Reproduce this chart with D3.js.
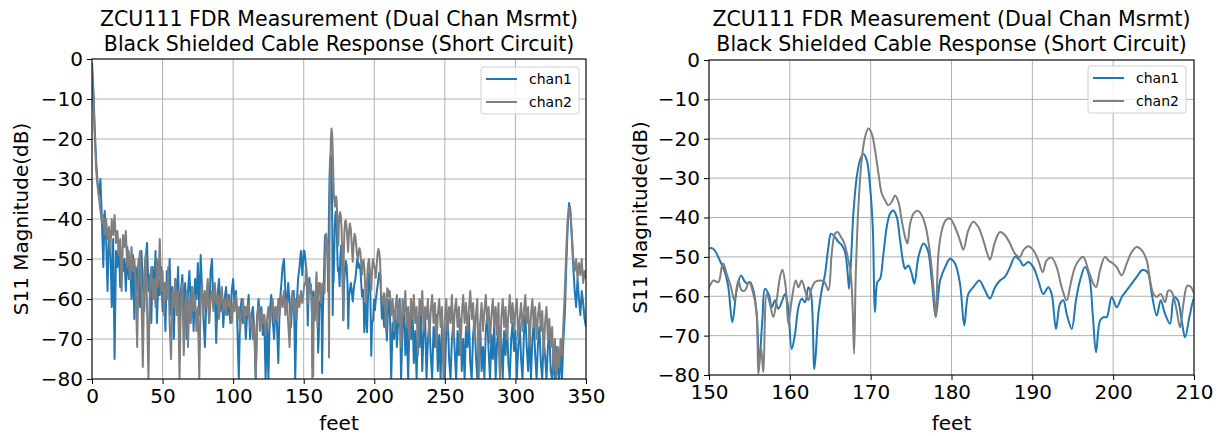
<!DOCTYPE html>
<html>
<head>
<meta charset="utf-8">
<script src="https://cdn.jsdelivr.net/npm/d3@7"></script>
<style>
  body { margin: 0; background: #fff; }
  svg { display: block; font-family: "DejaVu Sans", sans-serif; }
</style>
</head>
<body>
<div class="container"></div>
<script>
const titleLines = ['ZCU111 FDR Measurement (Dual Chan Msrmt)', 'Black Shielded Cable Response (Short Circuit)'];
const seriesNames = ['chan1', 'chan2'];
const seriesColors = ['#1f77b4', '#7f7f7f'];
const yTicks = [0, -10, -20, -30, -40, -50, -60, -70, -80];
const wideTicks = [0, 50, 100, 150, 200, 250, 300, 350];
const zoomTicks = [150, 160, 170, 180, 190, 200, 210];

// coarse read-off, 1 ft steps, 0..149 ft
const nearFeet = d3.range(0, 150);
const nearDb1 = [
  -1, -8, -18, -26, -31, -34, -30, -40, -52, -38, -45, -58, -44, -47, -62, -45, -75, -48, -52, -46,
  -57, -48, -53, -50, -58, -47, -55, -51, -60, -49, -65, -52, -58, -50, -62, -48, -56, -63, -50, -46,
  -58, -54, -66, -52, -60, -48, -66, -55, -59, -52, -63, -56, -68, -53, -60, -50, -64, -57, -70, -55,
  -61, -52, -67, -58, -54, -63, -56, -70, -58, -53, -62, -57, -68, -55, -60, -51, -64, -49, -58, -65,
  -72, -60, -56, -66, -53, -50, -62, -57, -71, -59, -55, -63, -58, -67, -60, -57, -64, -59, -66, -58,
  -55, -62, -58, -67, -80, -63, -60, -66, -62, -70, -63, -59, -70, -64, -62, -68, -80, -65, -60, -66,
  -62, -69, -64, -80, -66, -80, -63, -59, -65, -70, -62, -66, -76, -61, -57, -52, -50, -58, -63, -56,
  -61, -67, -60, -58, -80, -62, -55, -52, -48, -54
];
const nearDb2 = [
  -2, -10, -20, -28, -32, -35, -38, -41, -39, -44, -40, -45, -42, -48, -40, -44, -39, -46, -43, -49,
  -45, -58, -44, -47, -43, -52, -48, -55, -47, -53, -50, -57, -72, -52, -48, -58, -77, -54, -49, -62,
  -80, -56, -52, -60, -55, -62, -50, -57, -45, -58, -53, -64, -56, -60, -52, -66, -75, -58, -62, -55,
  -64, -58, -80, -60, -56, -74, -62, -58, -72, -60, -66, -57, -63, -59, -68, -62, -80, -60, -56, -64,
  -58, -62, -55, -66, -60, -58, -63, -56, -61, -59, -65, -60, -57, -63, -60, -64, -59, -62, -60, -66,
  -61, -63, -59, -65, -62, -68, -63, -60, -66, -62, -64, -61, -67, -64, -70, -66, -80, -64, -62, -68,
  -63, -66, -64, -69, -65, -62, -67, -63, -60, -66, -62, -65, -60, -64, -59, -62, -58, -64, -60, -66,
  -72, -61, -58, -63, -60, -65, -59, -62, -58, -61
];

// fine read-off from the zoomed panel, 150..210 ft
const zoomFeet1 = [
  150.0, 150.54, 151.36, 151.98, 152.39, 152.89, 153.42, 153.96, 154.46, 154.79, 155.07, 155.49, 155.9, 156.2, 156.6,
  156.93, 157.43, 157.76, 158.17, 158.58, 159.08, 159.41, 159.74, 160.23, 160.64, 161.06, 161.47, 161.88, 162.29, 162.62,
  163.04, 163.53, 163.94, 164.36, 164.77, 165.1, 165.59, 166.01, 166.42, 166.83, 167.16, 167.33, 167.57, 167.86, 168.28,
  168.69, 169.1, 169.51, 169.93, 170.26, 170.54, 170.83, 171.16, 171.58, 171.99, 172.4, 172.81, 173.23, 173.64, 174.05,
  174.26, 174.67, 175.08, 175.41, 175.91, 176.53, 177.06, 177.56, 178.05, 178.59, 179.21, 179.83,
  180.43, 181.05, 181.58, 182.08, 182.7, 183.44, 184.14, 184.76, 185.38, 186.0, 186.62, 187.24, 187.85, 188.47, 188.89,
  189.5, 190.12, 190.74, 191.36, 191.98, 192.39, 192.93, 193.42, 193.84, 194.25, 194.87, 195.4, 195.9, 196.52, 197.05,
  197.47, 197.88, 198.37, 198.79, 199.2, 199.82, 200.44, 201.06, 201.67, 202.29, 202.91, 203.53, 203.94, 204.36, 204.77,
  205.39, 205.88, 206.42, 207.04, 207.53, 207.99, 208.48, 208.89, 209.51, 210.13
];
const zoomDb1 = [
  -47.9, -48, -51, -54, -57.7, -66.6, -58.5, -54.7, -56.4, -56.8, -56.4, -58.5, -64.5, -77, -66,
  -58.1, -59.8, -62.8, -61, -63.2, -61, -59.4, -61.9, -73.4, -69.6, -62.8, -60.6, -61.5, -57.7, -59.4,
  -78.5, -64.5, -58.5, -54.3, -47.5, -44.1, -45, -46.2, -47, -48.8, -54.3, -58.1, -50.9, -39, -29.7,
  -25.4, -23.9, -25.4, -32.2, -42.4, -64, -56.4, -55.6, -49.2, -42.4, -39, -38.2, -39.9, -45.8, -51.7,
  -53, -52.2, -54.3, -56.8, -50, -46.6, -48.3, -56, -65.3, -56, -52.6, -50.5,
  -51.7, -56.8, -67.4, -59.4, -57.7, -56, -58.5, -60.6, -57.7, -56, -55, -52.6, -50, -50.9, -52.2,
  -51.3, -52.6, -56, -59.4, -57.7, -59.4, -68.3, -61.9, -61, -64.5, -68.3, -61, -56, -52.6, -55.1,
  -64.5, -74.2, -66.2, -65.3, -65.3, -60.2, -62.8, -60.2, -58.5, -56.8, -55.1, -53.4, -53.4, -54.3, -59.4,
  -64.9, -61, -64.5, -67, -60.2, -61, -66.2, -70.4, -64.5, -60.2
];
const zoomFeet2 = [
  150.0, 150.54, 151.16, 151.57, 151.77, 152.19, 152.72, 153.14, 153.63, 154.04, 154.46, 154.95, 155.49, 155.9, 156.11,
  156.44, 156.72, 157.14, 157.55, 157.96, 158.37, 158.79, 159.08, 159.49, 159.82, 160.23, 160.73, 161.06, 161.47, 161.88,
  162.29, 162.62, 163.12, 163.74, 164.27, 164.77, 165.18, 165.59, 165.92, 166.34, 166.75, 167.16, 167.57, 167.78, 167.95,
  168.15, 168.48, 168.89, 169.31, 169.72, 170.13, 170.54, 170.96, 171.37, 171.78, 172.19, 172.61, 173.02, 173.43, 173.84,
  174.26, 174.55, 174.88, 175.3, 175.83, 176.32, 176.82, 177.35, 177.76, 178.05, 178.38, 178.8, 179.29, 179.83,
  180.43, 181.05, 181.46, 182.08, 182.7, 183.32, 183.94, 184.43, 184.76, 185.38, 186.0, 186.62, 187.24, 187.85, 188.47,
  188.89, 189.5, 190.12, 190.74, 191.28, 191.77, 192.39, 193.01, 193.63, 194.25, 194.74, 195.28, 195.9, 196.31, 196.93,
  197.55, 197.88, 198.37, 198.99, 199.41, 199.94, 200.44, 201.06, 201.67, 202.29, 202.91, 203.53, 204.15, 204.56, 204.98,
  205.39, 205.88, 206.42, 206.83, 207.24, 207.78, 208.28, 208.69, 209.18, 209.6, 210.13
];
const zoomDb2 = [
  -57.7, -56, -56.4, -52.6, -51.7, -54.3, -57.7, -61, -56, -58.5, -58.5, -56.4, -59.4, -64.5, -79.7,
  -73, -79.3, -59.4, -62, -65.3, -61, -55.1, -53.3, -57.7, -67, -61, -56, -57.7, -56, -58.5,
  -61, -58.5, -56.4, -56, -56.4, -58.5, -49.2, -44.1, -43.7, -45, -46.6, -50, -55.1, -63.6, -74.6,
  -55.1, -37.3, -25.4, -19.5, -17.4, -18.7, -22.9, -28.8, -33.9, -35.6, -36.9, -36, -34.4, -36, -40.7,
  -45, -46.6, -41.6, -39, -38.3, -39.4, -42.4, -49.2, -57.7, -65.3, -49.2, -43.3, -40.7, -40.3,
  -42.4, -45.8, -48.2, -43.3, -41.1, -42.4, -45.8, -49.2, -50.7, -46.2, -43.7, -44.5, -46.6, -49.2, -50,
  -48.3, -47.3, -48.3, -50.9, -53.9, -50.9, -50.2, -52.6, -57.7, -61, -56.8, -52.6, -50.5, -50, -53.4,
  -56.8, -57.7, -53.4, -50, -50.9, -51.6, -52.6, -54.7, -51.7, -48.8, -47.5, -48.3, -50.9, -56, -59.4,
  -60.2, -59.4, -61.5, -58.5, -58.9, -62.8, -67.9, -61.9, -57.3, -57.6, -59.4
];

// coarse read-off, 1 ft steps, 211..350 ft
const farFeet = d3.range(211, 351);
const farDb1 = [
  -62, -80, -66, -70, -63, -72, -65, -60, -80, -67, -62, -74, -66, -80, -64, -70, -62, -76, -68, -80,
  -65, -72, -63, -78, -68, -64, -80, -70, -66, -74, -80, -67, -72, -64, -78, -69, -80, -66, -72, -80,
  -68, -64, -75, -80, -70, -66, -73, -80, -68, -74, -65, -78, -70, -80, -67, -72, -64, -76, -80, -69,
  -65, -74, -80, -70, -66, -78, -72, -80, -68, -64, -73, -80, -69, -75, -66, -80, -71, -67, -78, -70,
  -80, -68, -74, -65, -76, -80, -70, -66, -73, -68, -80, -72, -66, -75, -80, -69, -64, -72, -78, -68,
  -80, -70, -66, -74, -80, -71, -67, -76, -80, -70, -74, -80, -72, -68, -78, -80, -74, -80, -72, -78,
  -80, -73, -80, -70, -64, -52, -42, -36, -38, -45, -52, -58, -62, -55, -60, -64, -58, -61, -65, -67
];
const farDb2 = [
  -58, -64, -60, -68, -62, -59, -66, -61, -72, -60, -64, -58, -67, -62, -70, -60, -65, -59, -66, -62,
  -74, -60, -64, -58, -68, -62, -65, -60, -70, -63, -59, -66, -61, -72, -64, -60, -67, -62, -80, -65,
  -60, -68, -62, -66, -59, -70, -63, -60, -67, -62, -74, -64, -59, -66, -61, -68, -63, -58, -65, -61,
  -70, -64, -60, -80, -66, -61, -68, -63, -59, -66, -62, -71, -64, -60, -67, -62, -69, -61, -80, -65,
  -60, -67, -62, -70, -64, -59, -66, -61, -68, -63, -60, -70, -65, -61, -68, -63, -59, -66, -62, -72,
  -64, -60, -67, -62, -70, -64, -61, -68, -63, -74, -66, -62, -70, -65, -72, -67, -78, -70, -80, -72,
  -77, -70, -74, -66, -58, -48, -40, -37, -39, -44, -50, -53, -50, -55, -51, -54, -50, -56, -53, -55
];

const w = 1222;
const h = 436;
let svg = null;

window.onload = function () {
  setSvg();
  const chan1 = buildSeries(nearDb1, zoomFeet1, zoomDb1, farDb1);
  const chan2 = buildSeries(nearDb2, zoomFeet2, zoomDb2, farDb2);
  drawPanel({
    id: 'wide', left: 92, right: 586, top: 59, bottom: 379,
    xDomain: [0, 350], xTicks: wideTicks, ylabelX: 21,
    legend: { x: 481, y: 67 }, curve: d3.curveLinear
  }, [chan1, chan2]);
  drawPanel({
    id: 'zoom', left: 709, right: 1194, top: 60, bottom: 375,
    xDomain: [150, 210], xTicks: zoomTicks, ylabelX: 640,
    legend: { x: 1088, y: 66 }, curve: d3.curveCatmullRom.alpha(0.5)
  }, [chan1, chan2]);
};

function setSvg() {
  svg = d3
    .select('.container')
    .append('svg')
    .attr('width', w)
    .attr('height', h);
  svg.append('rect').attr('width', w).attr('height', h).attr('fill', '#fff');
}

function buildSeries(near, zf, zd, far) {
  return nearFeet.map((f, i) => [f, near[i]])
    .concat(zf.map((f, i) => [f, zd[i]]))
    .concat(farFeet.map((f, i) => [f, far[i]]));
}

function drawPanel(cfg, series) {
  const x = d3.scaleLinear().domain(cfg.xDomain).range([cfg.left, cfg.right]);
  const y = d3.scaleLinear().domain([-80, 0]).range([cfg.bottom, cfg.top]);
  const g = svg.append('g');

  // grid
  g.selectAll('.vgrid').data(cfg.xTicks).enter().append('line')
    .attr('x1', (d) => x(d)).attr('x2', (d) => x(d))
    .attr('y1', cfg.top).attr('y2', cfg.bottom)
    .attr('stroke', '#b0b0b0').attr('stroke-width', 1);
  g.selectAll('.hgrid').data(yTicks).enter().append('line')
    .attr('x1', cfg.left).attr('x2', cfg.right)
    .attr('y1', (d) => y(d)).attr('y2', (d) => y(d))
    .attr('stroke', '#b0b0b0').attr('stroke-width', 1);

  // lines
  svg.append('clipPath').attr('id', 'clip-' + cfg.id)
    .append('rect')
    .attr('x', cfg.left).attr('y', cfg.top)
    .attr('width', cfg.right - cfg.left).attr('height', cfg.bottom - cfg.top);
  const line = d3.line().x((d) => x(d[0])).y((d) => y(d[1])).curve(cfg.curve);
  g.append('g').attr('clip-path', `url(#clip-${cfg.id})`)
    .selectAll('path').data(series).enter().append('path')
    .attr('d', (d) => line(d))
    .attr('fill', 'none')
    .attr('stroke', (d, i) => seriesColors[i])
    .attr('stroke-width', 2)
    .attr('stroke-linejoin', 'round');

  // axes
  const xAxis = g.append('g').attr('transform', `translate(0,${cfg.bottom})`)
    .call(d3.axisBottom(x).tickValues(cfg.xTicks).tickSize(5).tickPadding(5).tickSizeOuter(0));
  const yAxis = g.append('g').attr('transform', `translate(${cfg.left},0)`)
    .call(d3.axisLeft(y).tickValues(yTicks).tickSize(5).tickPadding(4).tickSizeOuter(0));
  [xAxis, yAxis].forEach((a) => {
    a.select('.domain').remove();
    a.selectAll('text').attr('font-size', 20).attr('font-family', 'DejaVu Sans').attr('fill', '#000');
    a.selectAll('line').attr('stroke', '#000');
  });

  g.append('rect')
    .attr('x', cfg.left).attr('y', cfg.top)
    .attr('width', cfg.right - cfg.left).attr('height', cfg.bottom - cfg.top)
    .attr('fill', 'none').attr('stroke', '#000').attr('stroke-width', 1);

  // titles and labels
  const cx = (cfg.left + cfg.right) / 2;
  g.selectAll('.title').data(titleLines).enter().append('text')
    .attr('x', cx).attr('y', (d, i) => 26 + i * 24.6)
    .attr('text-anchor', 'middle').attr('font-size', 20.5).text((d) => d);
  g.append('text').attr('x', cx).attr('y', 430)
    .attr('text-anchor', 'middle').attr('font-size', 20).text('feet');
  g.append('text')
    .attr('transform', `translate(${cfg.ylabelX},${(cfg.top + cfg.bottom) / 2}) rotate(-90)`)
    .attr('text-anchor', 'middle').attr('dy', '0.35em')
    .attr('font-size', 20).text('S11 Magnitude(dB)');

  // legend
  const lg = g.append('g').attr('transform', `translate(${cfg.legend.x},${cfg.legend.y})`);
  lg.append('rect').attr('width', 98).attr('height', 47).attr('rx', 3)
    .attr('fill', '#fff').attr('fill-opacity', 0.8).attr('stroke', '#d0d0d0');
  const items = lg.selectAll('.item').data(seriesNames).enter().append('g')
    .attr('transform', (d, i) => `translate(0,${12 + i * 23})`);
  items.append('line').attr('x1', 5).attr('x2', 36)
    .attr('stroke', (d, i) => seriesColors[i]).attr('stroke-width', 2);
  items.append('text').attr('x', 48).attr('dy', '0.35em')
    .attr('font-size', 14).text((d) => d);
}
</script>
</body>
</html>
